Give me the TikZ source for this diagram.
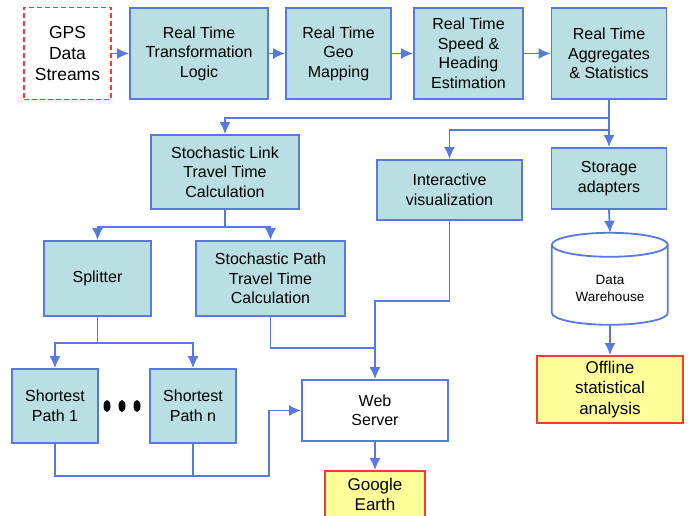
\documentclass[tikz,border=0pt]{standalone}
\usepackage{fontspec}
\setmainfont{Liberation Sans}
\usetikzlibrary{arrows.meta}
\definecolor{flowblue}{RGB}{88,121,226}
\definecolor{boxfill}{RGB}{185,223,226}
\definecolor{hiyellow}{RGB}{255,255,153}
\definecolor{hired}{RGB}{240,60,50}

\begin{document}
\begin{tikzpicture}[x=1pt, y=-1pt,
    >={Latex[length=12pt,width=11pt]},   % arrow tips
    font=\fontsize{16}{19.5}\selectfont,
    box/.style={rectangle, draw=flowblue, line width=1.8pt, align=center, inner sep=0pt},
    proc/.style={box, fill=boxfill},
    result/.style={box, draw=hired, fill=hiyellow, font=\fontsize{17}{20.5}\selectfont},
    source/.style={box, draw=hired, dash pattern=on 5pt off 3pt, font=\fontsize{17.5}{21}\selectfont},
    flow/.style={draw=flowblue, line width=1.8pt}]
    \useasboundingbox (0,0) rectangle (688,516);
    % top row
    \node[source, minimum width=87pt, minimum height=92pt] (gps) at (67.5,53.5) {GPS\\Data\\Streams};
    \node[proc, minimum width=138pt, minimum height=91pt] (trans) at (199,53.5) {Real Time\\Transformation\\Logic};
    \node[proc, minimum width=105pt, minimum height=91pt] (geo) at (338.5,53.5) {Real Time\\Geo\\Mapping};
    \node[proc, minimum width=109pt, minimum height=91pt] (speed) at (468.5,53.5) {Real Time\\Speed \&\\Heading\\Estimation};
    \node[proc, minimum width=115pt, minimum height=91pt] (aggr) at (609,53.5) {Real Time\\Aggregates\\\& Statistics};
    % middle
    \node[proc, minimum width=148pt, minimum height=74pt] (link) at (225,172) {Stochastic Link\\Travel Time\\Calculation};
    \node[proc, minimum width=145pt, minimum height=60pt] (vis) at (449.5,190) {Interactive\\visualization};
    \node[proc, minimum width=115pt, minimum height=61pt] (store) at (609,178.5) {Storage\\adapters};
    \node[proc, minimum width=107pt, minimum height=75pt] (split) at (97.5,278.5) {Splitter};
    \node[proc, minimum width=149pt, minimum height=75pt] (path) at (270.5,278.5) {Stochastic Path\\Travel Time\\Calculation};
    \node[minimum width=116pt, minimum height=92pt, inner sep=0pt] (dw) at (610,279) {};
    % bottom
    \node[proc, minimum width=86pt, minimum height=74pt] (sp1) at (55,406) {Shortest\\Path 1};
    \node[proc, minimum width=86pt, minimum height=74pt] (spn) at (193,406) {Shortest\\Path n};
    \node[box, minimum width=146pt, minimum height=61pt] (web) at (375,410.5) {Web\\Server};
    \node[result, minimum width=100pt, minimum height=47pt] (google) at (375,494.5) {Google\\Earth};
    \node[result, minimum width=146pt, minimum height=67pt] (offline) at (610,389.5) {Offline\\statistical\\analysis};
    % cylinder
    \draw[flow, fill=white] (dw.north west) ++(0,12) -- ++(0,68) arc[start angle=180, end angle=360, x radius=58pt, y radius=12pt]
        -- ++(0,-68) arc[start angle=0, end angle=180, x radius=58pt, y radius=12pt] -- cycle;
    \draw[flow] (dw.north west) ++(0,12) arc[start angle=180, end angle=360, x radius=58pt, y radius=12pt];
    \node[font=\fontsize{13.5}{17}\selectfont, align=center] (dwlabel) at (610,288) {Data\\Warehouse};
    % dots
    \foreach \d in {107,122,137} \fill (\d,406) ellipse[x radius=3.5pt, y radius=6pt];
    % connectors
    \draw[flow,->] (gps) -- (trans);
    \draw[flow,->] (trans) -- (geo);
    \draw[flow,->] (geo) -- (speed);
    \draw[flow,->] (speed) -- (aggr);
    \draw[flow,->] (aggr.south) -- ++(0,18) -| (link.north);
    \draw[flow,->] (aggr.south) -- ++(0,30) -| (vis.north);
    \draw[flow,->] (aggr.south) -- (store.north);
    \draw[flow,->] (link.south) -- ++(0,17) -| (split.north);
    \draw[flow,->] (link.south) -- ++(0,17) -| (path.north);
    \draw[flow,->] (split.south) -- ++(0,26) -| (sp1.north);
    \draw[flow,->] (split.south) -- ++(0,26) -| (spn.north);
    \draw[flow,->] (vis.south) -- ++(0,80) -| (web.north);
    \coordinate (join) at (375,348);
    \draw[flow] (path.south) |- (join);
    \draw[flow,->] (sp1.south) -- ++(0,32) -| ([xshift=-32pt]web.west) -- (web.west);
    \draw[flow] (spn.south) -- ++(0,32);
    \draw[flow,->] (web.south) -- (google.north);
    \draw[flow,->] (store.south) -- (dw.north);
    \draw[flow,->] (dw.south) -- (offline.north);
\end{tikzpicture}
\end{document}
